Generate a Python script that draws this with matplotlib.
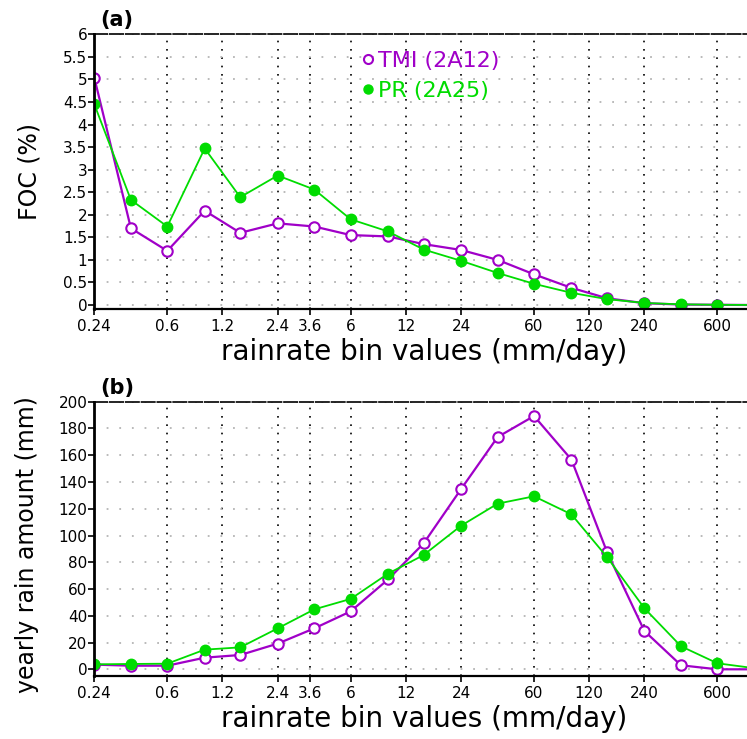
import matplotlib
matplotlib.use('Agg')
import matplotlib.pyplot as plt
from matplotlib.lines import Line2D

###### Data ####################################################################
# rainrate bins (mm/day), log spaced; the last bin sits just past the right edge
bins = [0.24, 0.38, 0.6, 0.96, 1.5, 2.4, 3.8, 6.0, 9.6, 15, 24, 38, 60, 96, 150, 240, 380, 600, 960]

# (a) frequency of occurrence (%)
foc_tmi = [5.04, 1.70, 1.20, 2.09, 1.60, 1.81, 1.74, 1.55, 1.52, 1.35, 1.22, 1.00, 0.68, 0.38, 0.15, 0.04, 0.01, 0.005, 0.0]
foc_pr = [4.45, 2.33, 1.74, 3.47, 2.39, 2.87, 2.56, 1.90, 1.63, 1.23, 0.98, 0.71, 0.47, 0.27, 0.13, 0.045, 0.015, 0.005, 0.0]

# (b) yearly rain amount (mm)
rain_tmi = [3.5, 2.7, 2.7, 8.7, 10.7, 19.2, 30.6, 43.3, 67.2, 94.1, 134.7, 173.6, 189.3, 156.7, 87.7, 28.6, 3.0, 0.0, 0.0]
rain_pr = [3.7, 4.0, 4.2, 14.7, 16.4, 30.6, 44.8, 52.6, 71.5, 85.4, 107.3, 123.8, 129.3, 115.8, 83.9, 45.6, 17.2, 4.5, 0.8]

xticks = [0.24, 0.6, 1.2, 2.4, 3.6, 6, 12, 24, 60, 120, 240, 600]
xticklabels = ['0.24', '0.6', '1.2', '2.4', '3.6', '6', '12', '24', '60', '120', '240', '600']
yticks_a = [0, 0.5, 1, 1.5, 2, 2.5, 3, 3.5, 4, 4.5, 5, 5.5, 6]
yticklabels_a = ['0', '0.5', '1', '1.5', '2', '2.5', '3', '3.5', '4', '4.5', '5', '5.5', '6']
yticks_b = [0, 20, 40, 60, 80, 100, 120, 140, 160, 180, 200]

purple = '#a000c8'
green = '#00dc00'

###### Figure ##################################################################
W, H = 747.0, 739.0
fig = plt.figure(figsize=(W / 100, H / 100), dpi=100)


def px_axes(l, t, r, b):
    # axes from pixel box (left, top, right, bottom)
    return fig.add_axes([l / W, 1 - b / H, (r - l) / W, (b - t) / H])


def style(ax, yticks, ylabels, ylim):
    ax.set_xscale('log')
    ax.set_xlim(0.24, 870)
    ax.set_ylim(*ylim)
    ax.set_xticks(xticks)
    ax.set_xticklabels(xticklabels)
    ax.minorticks_off()
    ax.set_yticks(yticks)
    ax.set_yticklabels(ylabels)
    ax.tick_params(axis='both', direction='out', length=4, width=1.2, labelsize=11, colors='black')
    ax.tick_params(axis='y', pad=1)
    ax.tick_params(axis='x', pad=3)
    ax.spines['right'].set_visible(False)
    ax.spines['left'].set_linewidth(2)
    ax.spines['bottom'].set_linewidth(1.6)
    ax.spines['top'].set_linewidth(1.2)
    ax.spines['top'].set_linestyle((0, (8, 1.5)))
    ax.set_axisbelow(True)
    # dotted guides: grey horizontal, black vertical
    ax.yaxis.grid(True, color='#b4b4b4', linestyle=(0, (1, 6)), linewidth=1.3)
    ax.xaxis.grid(True, color='black', linestyle=(0, (1, 4)), linewidth=1.2)


ax1 = px_axes(94.3, 34.3, 747, 309.3)
ax2 = px_axes(94.3, 401.7, 747, 676)

for ax, tmi, pr in [(ax1, foc_tmi, foc_pr), (ax2, rain_tmi, rain_pr)]:
    ax.plot(bins, tmi, color=purple, lw=1.6, marker='o', ms=7.5, mfc='white', mec=purple, mew=1.5)
    ax.plot(bins, pr, color=green, lw=1.3, marker='o', ms=7.5, mfc=green, mec=green)

style(ax1, yticks_a, yticklabels_a, (-0.095, 6))
style(ax2, yticks_b, [str(v) for v in yticks_b], (-5, 200))

# legend: marker + coloured text, no lines
handles = [Line2D([], [], ls='none', marker='o', ms=6.5, mfc='white', mec=purple, mew=1.5, label='TMI (2A12)'),
           Line2D([], [], ls='none', marker='o', ms=6.5, mfc=green, mec=green, label='PR (2A25)')]
ax1.legend(handles=handles, loc='upper left', bbox_to_anchor=(362 / W, 1 - 51 / H),
           bbox_transform=fig.transFigure, frameon=False, labelcolor='markeredgecolor',
           handlelength=0.55, handletextpad=0.15, borderpad=0, borderaxespad=0,
           labelspacing=0.45, fontsize=16)

# panel labels and axis titles
fig.text(100 / W, 1 - 20 / H, '(a)', fontsize=15, fontweight='bold', va='center', ha='left')
fig.text(100 / W, 1 - 388 / H, '(b)', fontsize=15, fontweight='bold', va='center', ha='left')
fig.text(424 / W, 1 - 352 / H, 'rainrate bin values (mm/day)', fontsize=20, ha='center', va='center')
fig.text(424 / W, 1 - 719 / H, 'rainrate bin values (mm/day)', fontsize=20, ha='center', va='center')
fig.text(30 / W, 1 - 172 / H, 'FOC (%)', fontsize=17, rotation=90, ha='center', va='center')
fig.text(27 / W, 1 - 545 / H, 'yearly rain amount (mm)', fontsize=17, rotation=90, ha='center', va='center')

fig.savefig('out.png', dpi=100)
